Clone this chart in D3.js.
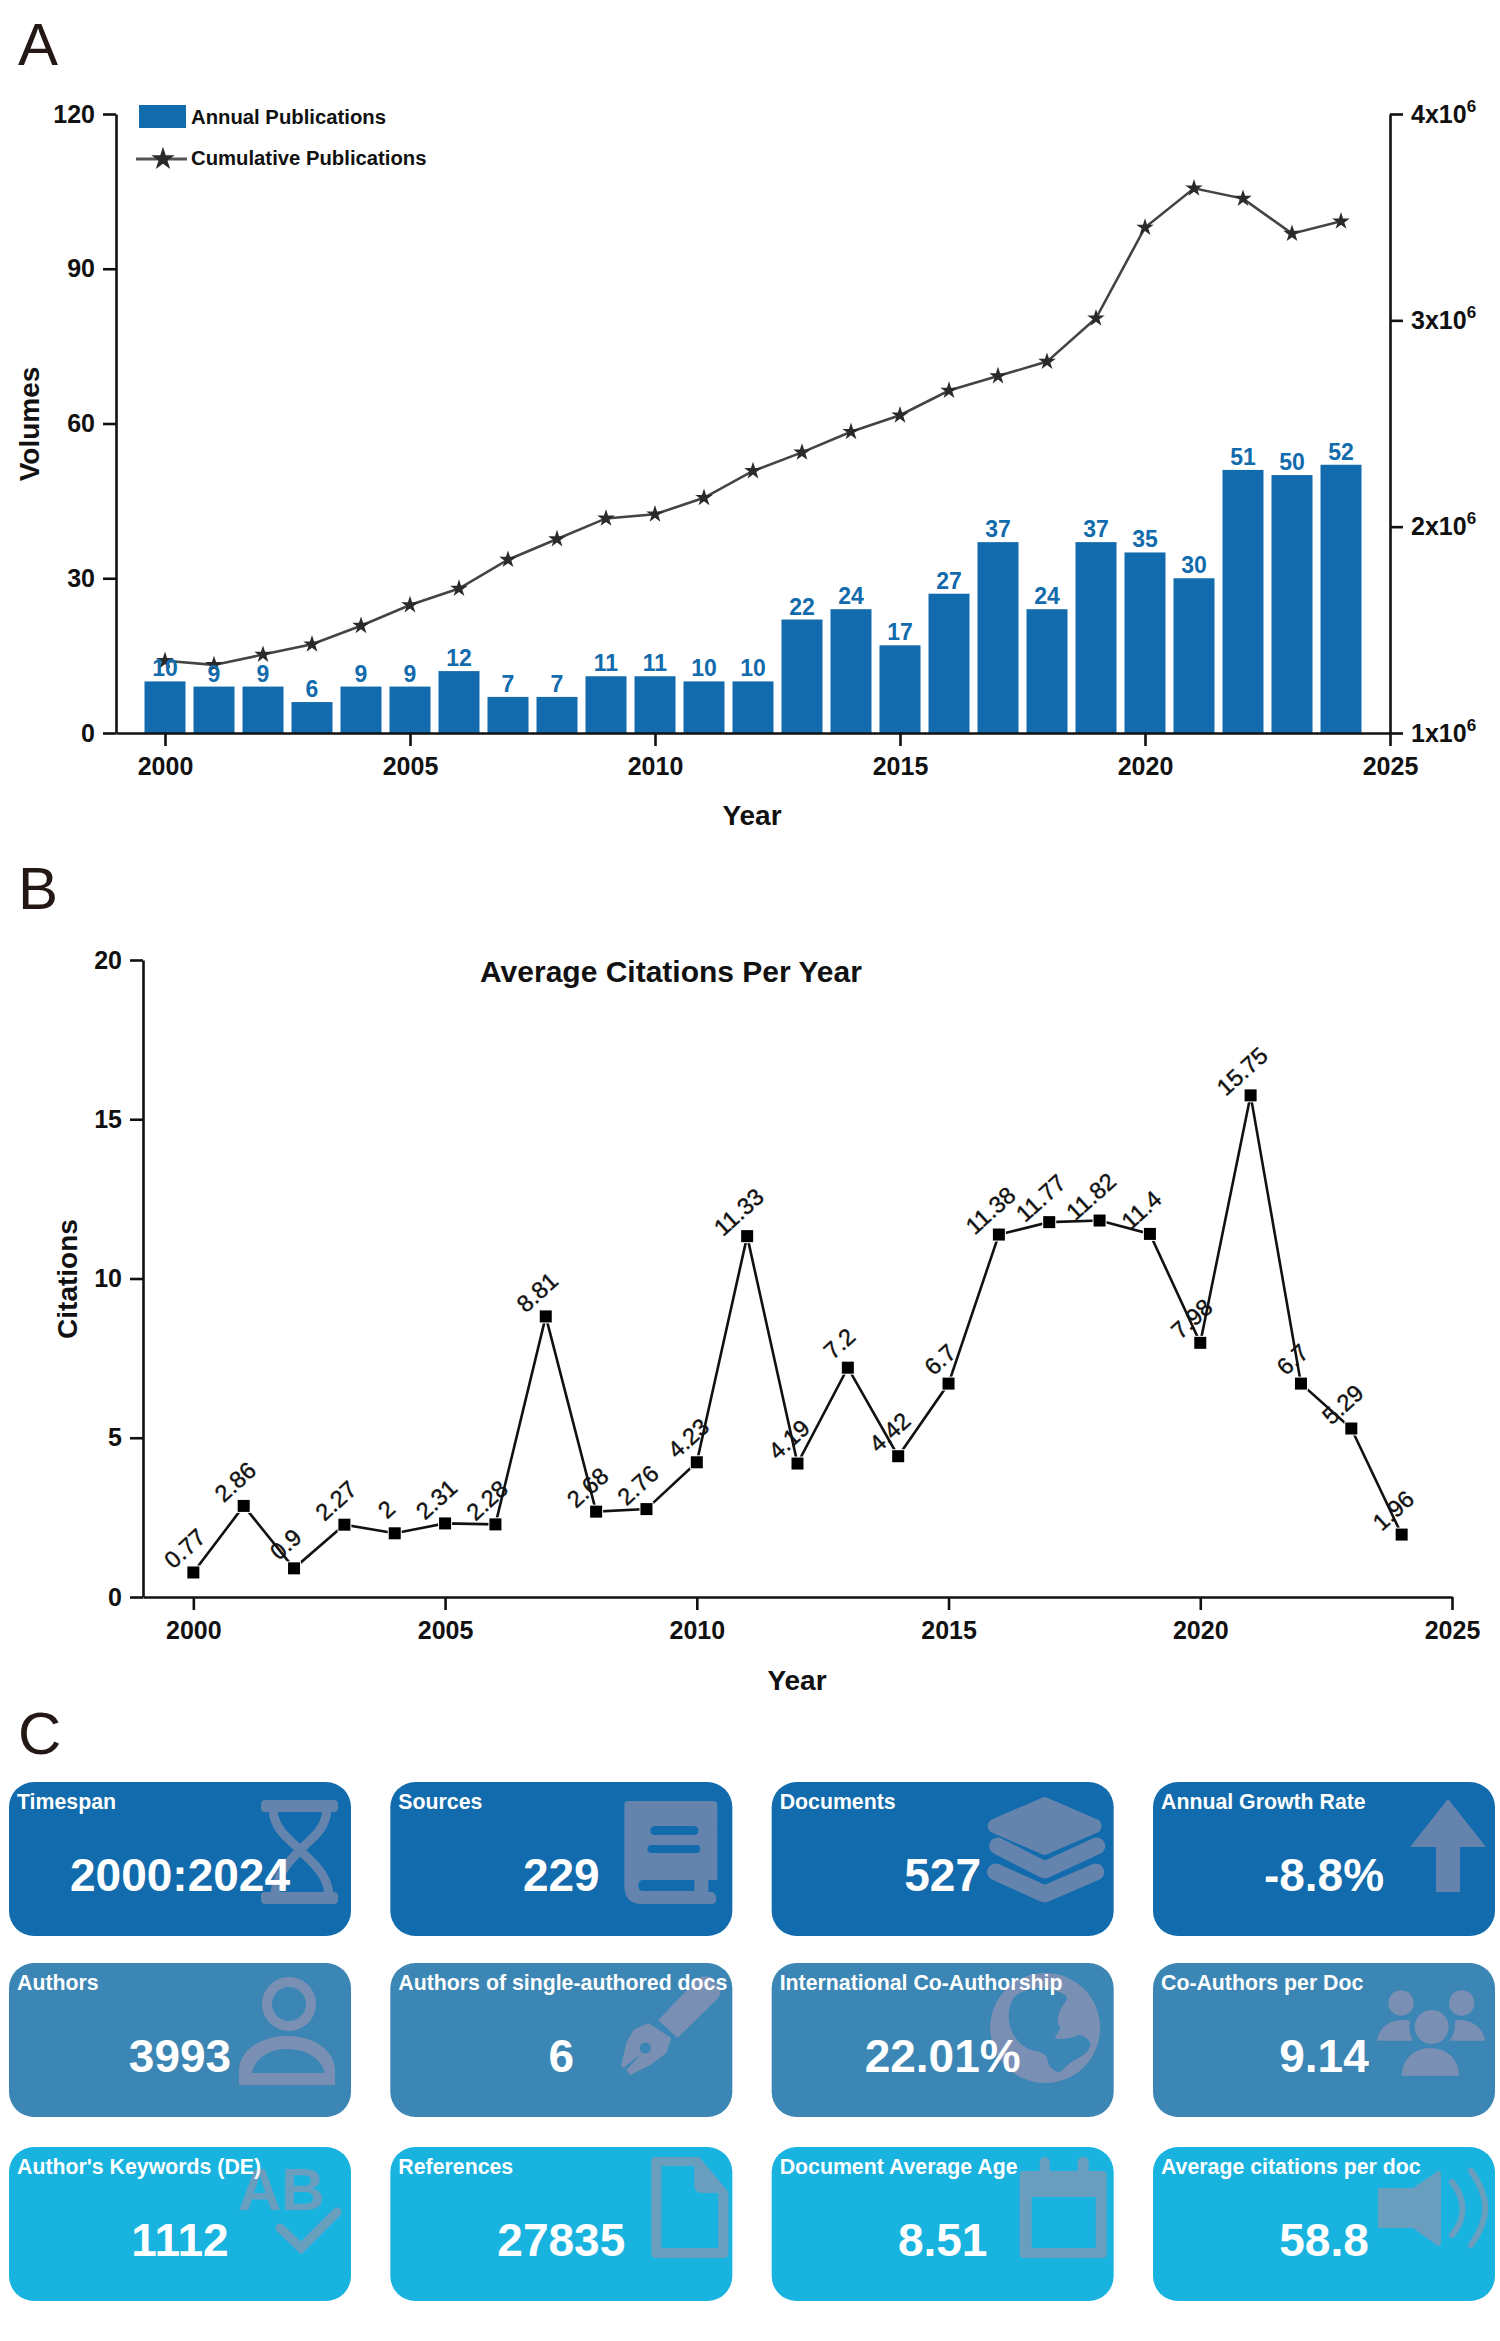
<!DOCTYPE html>
<html>
<head>
<meta charset="utf-8">
<title>Publication overview</title>
<script src="https://cdn.jsdelivr.net/npm/d3@7/dist/d3.min.js"></script>
<style>
  html, body { margin: 0; padding: 0; background: #fff; }
  svg { display: block; font-family: "Liberation Sans", Arial, sans-serif; }
  .axis text { font-size: 25px; font-weight: 700; fill: #111; font-family: "Liberation Sans", Arial, sans-serif; }
  .axis path, .axis line { stroke: #111; stroke-width: 2.6px; }
  .title { font-weight: 700; fill: #111; font-size: 28px; }
  .panel { font-size: 60px; fill: #231815; }
</style>
</head>
<body>
<svg id="fig" width="1500" height="2341" viewBox="0 0 1500 2341"></svg>
<script>
// Publication years shared by panels A and B
const years = d3.range(2000, 2025);
const yearTicks = [2000, 2005, 2010, 2015, 2020, 2025];

// Panel A: yearly volumes and cumulative curve
const annualPublications = [10, 9, 9, 6, 9, 9, 12, 7, 7, 11, 11, 10, 10, 22, 24, 17, 27, 37, 24, 37, 35, 30, 51, 50, 52];
const cumulativePublications = [1.35e6, 1.33e6, 1.38e6, 1.43e6, 1.52e6, 1.62e6, 1.70e6, 1.84e6, 1.94e6, 2.04e6, 2.06e6, 2.14e6, 2.27e6, 2.36e6, 2.46e6, 2.54e6, 2.66e6, 2.73e6, 2.80e6, 3.01e6, 3.45e6, 3.64e6, 3.59e6, 3.42e6, 3.48e6];
const volumeTicks = [0, 30, 60, 90, 120];
const cumulativeTicks = [1e6, 2e6, 3e6, 4e6];
const legendLabels = ["Annual Publications", "Cumulative Publications"];

// Panel B: average citations per year
const averageCitations = [0.77, 2.86, 0.9, 2.27, 2, 2.31, 2.28, 8.81, 2.68, 2.76, 4.23, 11.33, 4.19, 7.2, 4.42, 6.7, 11.38, 11.77, 11.82, 11.4, 7.98, 15.75, 6.7, 5.29, 1.96];
const citationTicks = [0, 5, 10, 15, 20];

// Panel C: summary cards, three rows of four
const cardTitles = ["Timespan", "Sources", "Documents", "Annual Growth Rate",
  "Authors", "Authors of single-authored docs", "International Co-Authorship", "Co-Authors per Doc",
  "Author's Keywords (DE)", "References", "Document Average Age", "Average citations per doc"];
const cardValues = ["2000:2024", "229", "527", "-8.8%", "3993", "6", "22.01%", "9.14", "1112", "27835", "8.51", "58.8"];
const cardIcons = ["hourglass", "book", "layers", "arrow", "person", "pen", "globe", "people", "keywords", "document", "calendar", "speaker"];
const rowFill = ["#126bac", "#3b86b4", "#19b3e0"];
const rowIcon = ["#6484ae", "#7a8fb4", "#6a9ebf"];

const BLUE = "#126bac";
const svg = d3.select("#fig");

// Panel letters
[["A", 18, 65], ["B", 18, 909], ["C", 18, 1754]].forEach(([t, x, y]) => {
  svg.append("text").attr("class", "panel").attr("x", x).attr("y", y).text(t);
});

/* ---------- Panel A ---------- */
const xA = d3.scaleLinear().domain([1999, 2025]).range([116, 1390]);
const yA = d3.scaleLinear().domain([0, 120]).range([733, 114]);
const yCum = d3.scaleLinear().domain([1e6, 4e6]).range([733, 114]);
const barW = 41;

const a = svg.append("g");
a.selectAll("rect.bar").data(annualPublications).join("rect")
  .attr("class", "bar")
  .attr("x", (d, i) => xA(years[i]) - barW / 2)
  .attr("width", barW)
  .attr("y", d => yA(d))
  .attr("height", d => yA(0) - yA(d))
  .attr("fill", BLUE);

a.append("path").datum(cumulativePublications)
  .attr("fill", "none").attr("stroke", "#444").attr("stroke-width", 2.6)
  .attr("d", d3.line().x((d, i) => xA(years[i])).y(d => yCum(d)));

const star = d3.symbol().type(d3.symbolStar).size(95);
a.selectAll("path.star").data(cumulativePublications).join("path")
  .attr("class", "star").attr("fill", "#2a2a2a").attr("d", star)
  .attr("transform", (d, i) => `translate(${xA(years[i])},${yCum(d)})`);

a.selectAll("text.barlabel").data(annualPublications).join("text")
  .attr("class", "barlabel")
  .attr("x", (d, i) => xA(years[i]))
  .attr("y", d => yA(d) - 5)
  .attr("text-anchor", "middle")
  .attr("font-size", 23).attr("font-weight", 700).attr("fill", BLUE)
  .text(d => d);

a.append("g").attr("class", "axis").attr("transform", `translate(116,0)`)
  .call(d3.axisLeft(yA).tickValues(volumeTicks).tickSize(13).tickSizeOuter(0).tickPadding(8));
a.append("g").attr("class", "axis").attr("transform", `translate(0,733)`)
  .call(d3.axisBottom(xA).tickValues(yearTicks).tickFormat(d3.format("d")).tickSize(13).tickSizeOuter(0).tickPadding(11));

const rightAxis = a.append("g").attr("class", "axis").attr("transform", `translate(1390,0)`)
  .call(d3.axisRight(yCum).tickValues(cumulativeTicks).tickSize(13).tickSizeOuter(0).tickPadding(8));
rightAxis.selectAll(".tick text").each(function (d) {
  const t = d3.select(this).text(null);
  t.append("tspan").text(`${d / 1e6}x10`);
  t.append("tspan").attr("font-size", 17).attr("dy", -11).text("6");
});

a.append("text").attr("class", "title").attr("text-anchor", "middle")
  .attr("transform", "translate(39,424) rotate(-90)").text("Volumes");
a.append("text").attr("class", "title").attr("text-anchor", "middle")
  .attr("x", 752).attr("y", 825).text("Year");

// Legend
const lg = a.append("g").attr("font-size", 20.3).attr("font-weight", 700).attr("fill", "#111");
lg.append("rect").attr("x", 139).attr("y", 105).attr("width", 47).attr("height", 23).attr("fill", BLUE);
lg.append("text").attr("x", 191).attr("y", 124).text(legendLabels[0]);
lg.append("line").attr("x1", 136).attr("x2", 187).attr("y1", 159).attr("y2", 159)
  .attr("stroke", "#555").attr("stroke-width", 3);
lg.append("path").attr("d", d3.symbol().type(d3.symbolStar).size(170)).attr("fill", "#2a2a2a")
  .attr("transform", "translate(163,159)");
lg.append("text").attr("x", 191).attr("y", 165).text(legendLabels[1]);

/* ---------- Panel B ---------- */
const xB = d3.scaleLinear().domain([1999, 2025]).range([143, 1452]);
const yB = d3.scaleLinear().domain([0, 20]).range([1597, 960]);
const b = svg.append("g");

b.append("path").datum(averageCitations)
  .attr("fill", "none").attr("stroke", "#111").attr("stroke-width", 2.6)
  .attr("d", d3.line().x((d, i) => xB(years[i])).y(d => yB(d)));

const square = 12;
b.selectAll("rect.pt").data(averageCitations).join("rect")
  .attr("class", "pt")
  .attr("x", (d, i) => xB(years[i]) - square / 2)
  .attr("y", d => yB(d) - square / 2)
  .attr("width", square).attr("height", square)
  .attr("fill", "#000").attr("stroke", "#fff").attr("stroke-width", 2).attr("paint-order", "stroke");

b.selectAll("text.ptlabel").data(averageCitations).join("text")
  .attr("class", "ptlabel")
  .attr("text-anchor", "middle").attr("font-size", 23.5).attr("fill", "#111")
  .attr("stroke", "#111").attr("stroke-width", 0.4)
  .attr("transform", (d, i) => `translate(${xB(years[i]) - 3},${yB(d) - 18}) rotate(-42)`)
  .text(d => d);

b.append("g").attr("class", "axis").attr("transform", "translate(143,0)")
  .call(d3.axisLeft(yB).tickValues(citationTicks).tickSize(13).tickSizeOuter(0).tickPadding(8));
b.append("g").attr("class", "axis").attr("transform", "translate(0,1597)")
  .call(d3.axisBottom(xB).tickValues(yearTicks).tickFormat(d3.format("d")).tickSize(13).tickSizeOuter(0).tickPadding(11));

b.append("text").attr("class", "title").attr("text-anchor", "middle")
  .attr("transform", "translate(77,1279) rotate(-90)").text("Citations");
b.append("text").attr("class", "title").attr("text-anchor", "middle")
  .attr("x", 797).attr("y", 1690).text("Year");
b.append("text").attr("class", "title").attr("text-anchor", "middle")
  .style("font-size", "30px").attr("x", 671).attr("y", 982).text("Average Citations Per Year");

/* ---------- Panel C ---------- */
const cardX = d3.scaleLinear().domain([0, 3]).range([9, 1153]);
const cardY = d3.scaleOrdinal().domain([0, 1, 2]).range([1782, 1963, 2147]);
const cardW = 342, cardH = 154;
const smooth = d3.line().curve(d3.curveCatmullRomClosed.alpha(0.5));

// Glyph drawers: each paints into a card-local group using the row's icon colour
const glyphs = {
  hourglass(g, c) {
    g.append("rect").attr("x", 252).attr("y", 18).attr("width", 77).attr("height", 12).attr("rx", 4).attr("fill", c);
    g.append("rect").attr("x", 252).attr("y", 110).attr("width", 77).attr("height", 12).attr("rx", 4).attr("fill", c);
    g.append("path").attr("fill", "none").attr("stroke", c).attr("stroke-width", 9)
      .attr("d", "M264 28C266 50 282 58 291 68C300 78 318 90 320 112M318 28C316 50 300 58 291 68C282 78 268 90 266 112");
  },
  book(g, c) {
    g.append("path").attr("fill", c).attr("fill-rule", "evenodd").attr("d",
      "M238 19H323Q327 19 327 24V98H318V110H322Q326 112 326 117Q326 122 321 122H252Q234 122 234 104V23Q234 19 238 19Z" +
      "M265 44H303Q308 44 308 48.5Q308 53 303 53H265Q260 53 260 48.5Q260 44 265 44Z" +
      "M262 63H306Q310 63 310 67Q310 71 306 71H262Q257 71 257 67Q257 63 262 63Z" +
      "M253 98H304V109H253Q248 109 248 103.5Q248 98 253 98Z");
  },
  layers(g, c) {
    g.append("path").attr("fill", c).attr("stroke", c).attr("stroke-width", 10).attr("stroke-linejoin", "round")
      .attr("d", "M222 42L273 20L324 42Q326 44 324 46L273 68L222 46Q220 44 222 42Z");
    g.append("polyline").attr("points", "226,64 273,88 325,64").attr("fill", "none").attr("stroke", c)
      .attr("stroke-width", 17).attr("stroke-linecap", "round").attr("stroke-linejoin", "round");
    g.append("polyline").attr("points", "224,90 273,112 324,90").attr("fill", "none").attr("stroke", c)
      .attr("stroke-width", 17).attr("stroke-linecap", "round").attr("stroke-linejoin", "round");
  },
  arrow(g, c) {
    g.append("path").attr("fill", c).attr("d", "M295 17L333 65H307V110H283V65H257Z");
  },
  person(g, c) {
    g.append("circle").attr("cx", 280).attr("cy", 41).attr("r", 22).attr("fill", "none").attr("stroke", c).attr("stroke-width", 10);
    g.append("path").attr("fill", c).attr("fill-rule", "evenodd").attr("d",
      "M230 122V108C230 85 255 73 278 73C302 73 326 85 326 108V122Z" +
      "M243 110C246 95 260 86 278 86C297 86 312 95 316 110Z");
  },
  pen(g, c, bg) {
    g.append("path").attr("fill", c).attr("d", "M268 57L308 15Q314 12 320 14L330 24Q331 30 328 35L287 75Z");
    g.append("path").attr("fill", c).attr("d",
      "M243 67L258 60L281 75L276 90L260 102L240 112L236 107L252 90L233 105L231 102L236 80Z");
    g.append("circle").attr("cx", 255).attr("cy", 85).attr("r", 5.5).attr("fill", bg);
  },
  globe(g, c, bg) {
    g.append("circle").attr("cx", 273.5).attr("cy", 65).attr("r", 55).attr("fill", c);
    const ocean = [[237, 54], [242, 35], [255, 27], [272, 25], [295, 34], [288.5, 47], [286, 60], [288.5, 65], [283.5, 75], [298.5, 75], [308.5, 72], [318.5, 80], [315, 89], [298.5, 100], [287, 109], [278.5, 104], [273.5, 92], [255, 85], [242, 72]];
    g.append("path").attr("fill", bg).attr("d", smooth(ocean));
  },
  people(g, c) {
    g.append("circle").attr("cx", 248).attr("cy", 40).attr("r", 12.7).attr("fill", c);
    g.append("circle").attr("cx", 308.7).attr("cy", 40).attr("r", 12.7).attr("fill", c);
    g.append("circle").attr("cx", 278.7).attr("cy", 64).attr("r", 17).attr("fill", c);
    g.append("path").attr("fill", c).attr("d", "M248.7 112.7C248.7 96 262 85 277 85C293 85 306 96 306 112.7Z");
    g.append("path").attr("fill", c).attr("d", "M224 77.7C226 65 236 57 250 57Q254 57 257 58Q255 70 260 77.7Z");
    g.append("path").attr("fill", c).attr("d", "M332 77.7C330 65 320 57 306 57Q304 57 302 58Q303 70 296.3 77.7Z");
  },
  keywords(g, c) {
    g.append("text").attr("x", 229).attr("y", 63).attr("font-size", 60).attr("font-weight", 700).attr("fill", c).text("AB");
    g.append("polyline").attr("points", "271,81 292,101 328,65").attr("fill", "none").attr("stroke", c)
      .attr("stroke-width", 9).attr("stroke-linecap", "round");
  },
  document(g, c) {
    g.append("path").attr("fill", c).attr("fill-rule", "evenodd").attr("d",
      "M265 10H309L338 45V106Q338 111 333 111H266Q261 111 261 106V14Q261 10 265 10Z" +
      "M271 19V101H328V46H312Q304 46 304 38V19Z");
  },
  calendar(g, c, bg) {
    g.append("rect").attr("x", 268).attr("y", 10).attr("width", 10).attr("height", 20).attr("rx", 5).attr("fill", c);
    g.append("rect").attr("x", 306).attr("y", 10).attr("width", 11).attr("height", 20).attr("rx", 5).attr("fill", c);
    g.append("rect").attr("x", 248).attr("y", 24).attr("width", 87).attr("height", 87).attr("rx", 4).attr("fill", c);
    g.append("rect").attr("x", 260).attr("y", 50).attr("width", 64).attr("height", 51).attr("fill", bg);
  },
  speaker(g, c) {
    g.append("path").attr("fill", c).attr("d", "M225 41H260L285 24Q288 24 288 28V95Q288 99 285 99L260 81H225Z");
    g.append("path").attr("fill", "none").attr("stroke", c).attr("stroke-width", 6).attr("stroke-linecap", "round")
      .attr("d", "M299 35C313 52 313 72 299 88");
    g.append("path").attr("fill", "none").attr("stroke", c).attr("stroke-width", 6).attr("stroke-linecap", "round")
      .attr("d", "M318 24C337 50 337 72 318 98");
  }
};

cardTitles.forEach((title, i) => {
  const row = Math.floor(i / 4), col = i % 4;
  const g = svg.append("g").attr("transform", `translate(${cardX(col)},${cardY(row)})`);
  g.append("rect").attr("width", cardW).attr("height", cardH).attr("rx", 25).attr("fill", rowFill[row]);
  glyphs[cardIcons[i]](g.append("g"), rowIcon[row], rowFill[row]);
  g.append("text").attr("x", 8).attr("y", 27).attr("font-size", 21.3).attr("font-weight", 700).attr("fill", "#fff").text(title);
  g.append("text").attr("x", cardW / 2).attr("y", 109).attr("text-anchor", "middle")
    .attr("font-size", 46).attr("font-weight", 700).attr("fill", "#fff").text(cardValues[i]);
});
</script>
</body>
</html>
